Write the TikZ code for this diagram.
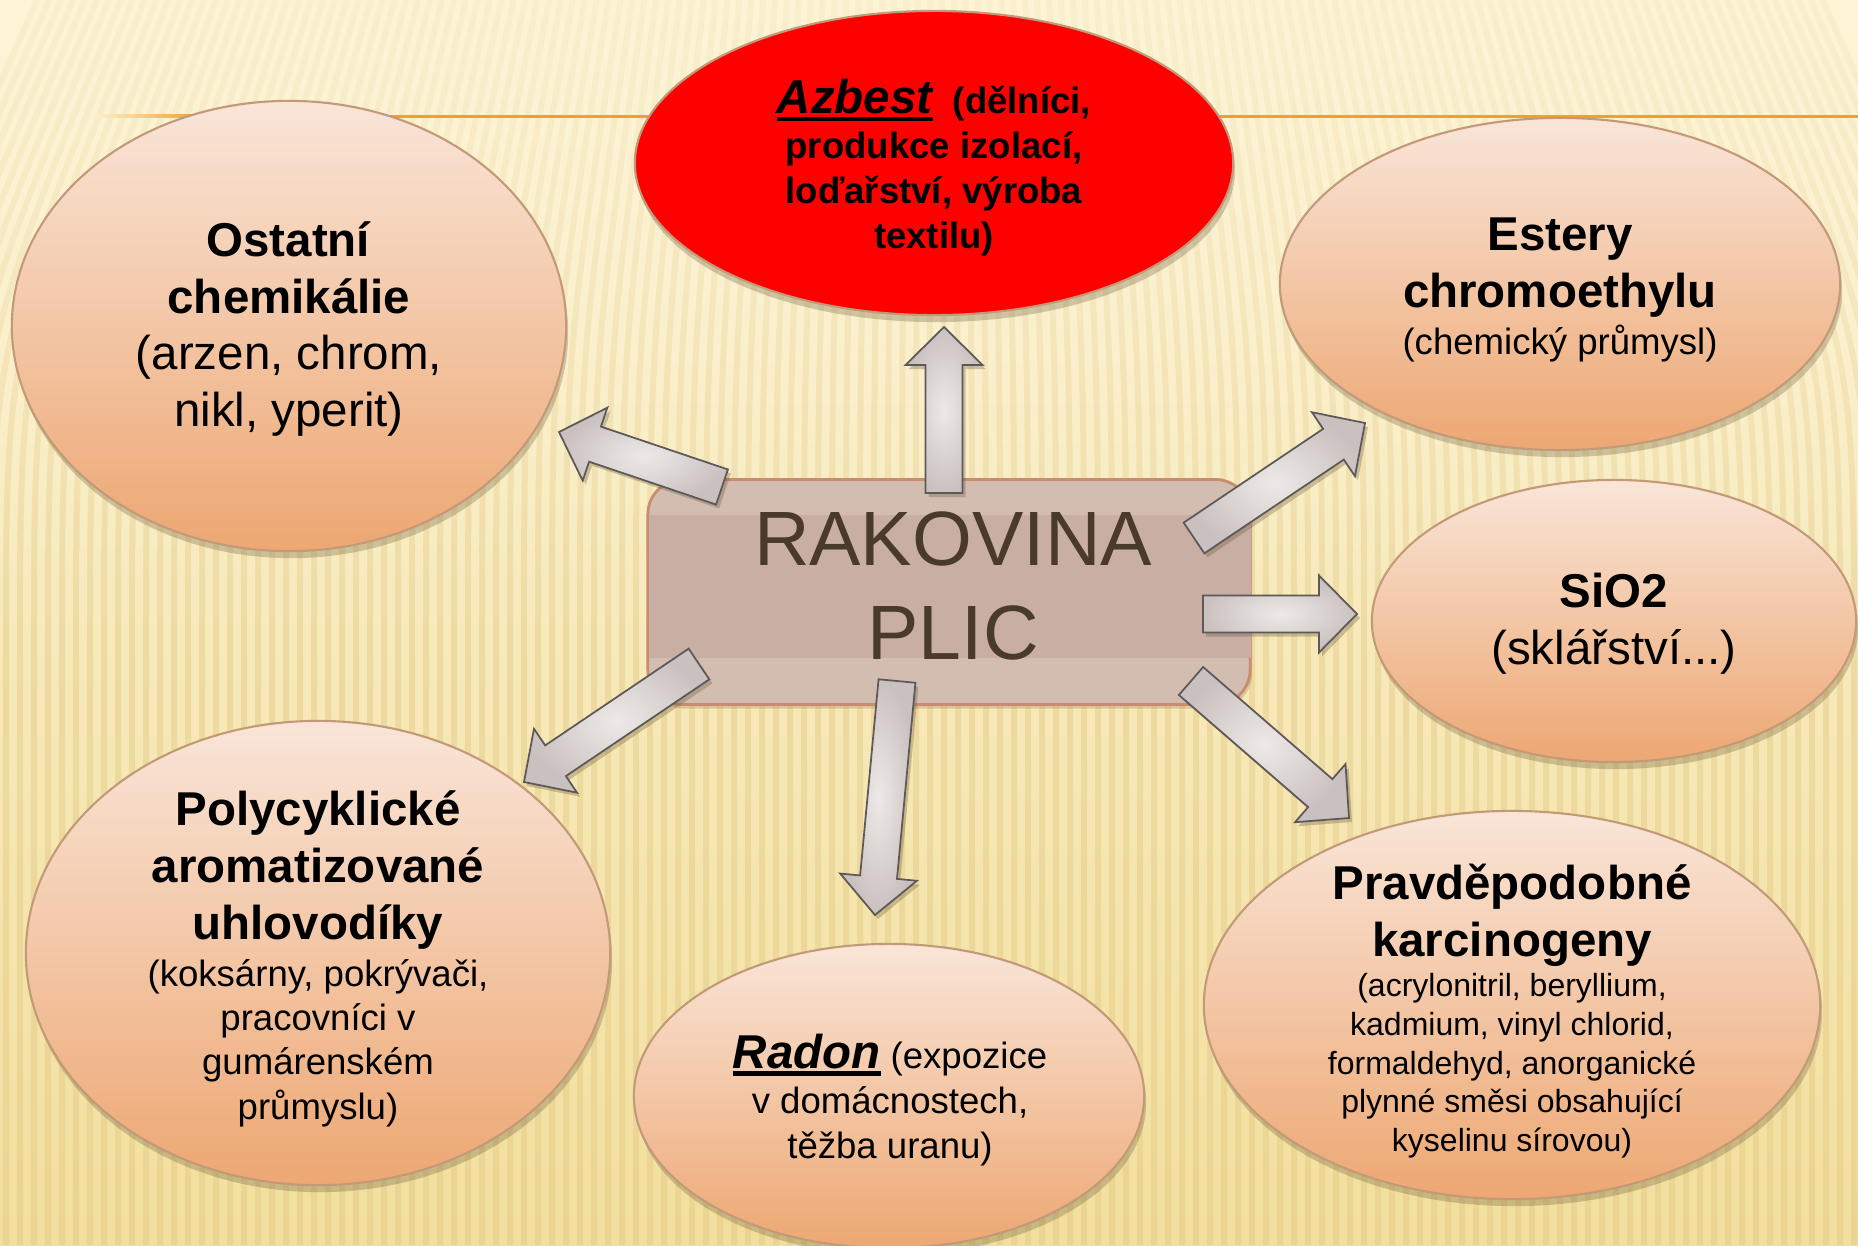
\documentclass[tikz,border=0pt]{standalone}
\usepackage{fontspec}
\setmainfont{Liberation Sans}
\usetikzlibrary{calc,shadows,shapes.geometric,fadings}
\definecolor{bgtop}{HTML}{FDF4D6}
\definecolor{bgbot}{HTML}{F2DF9E}
\definecolor{stripec}{HTML}{DEC27A}
\definecolor{linec}{HTML}{F0A02C}
\definecolor{elltop}{HTML}{F9E5D8}
\definecolor{ellbot}{HTML}{EDA772}
\definecolor{ellborder}{HTML}{C39A78}
\definecolor{shadowc}{HTML}{5E5030}
\definecolor{boxfill}{HTML}{D3BDB1}
\definecolor{boxband}{HTML}{C8AEA3}
\definecolor{boxedge}{HTML}{C98C70}
\definecolor{txtdark}{HTML}{4A3A2C}
\definecolor{arrfill}{HTML}{DDD6D4}
\definecolor{arrlight}{HTML}{EEE9E8}
\definecolor{arrdark}{HTML}{C9C1BF}
\definecolor{arredge}{HTML}{5E5858}
\tikzfading[name=topfade, top color=transparent!25, bottom color=transparent!100]
\newcommand\fsHead{\fontsize{13.5}{16.2}\selectfont}
\newcommand\fsMid{\fontsize{10.4}{12.8}\selectfont}
\newcommand\fsMidb{\fontsize{10.4}{12.6}\selectfont}
\newcommand\fsSmall{\fontsize{9.1}{11.0}\selectfont}
\newcommand\fsBig{\fontsize{21.9}{26.5}\selectfont}
\newsavebox\ulbox
\newcommand\myul[1]{\sbox\ulbox{#1}\rlap{\usebox\ulbox}\rule[-0.16em]{\wd\ulbox}{1.3pt}}
\newcommand\blockarrow[2]{%
  \coordinate (hb) at ($(#2)!0.38cm!(#1)$);
  \draw[arrstyle] ($(#1)!0.185cm!90:(#2)$) -- ($(hb)!0.185cm!-90:(#1)$)
    -- ($(hb)!0.385cm!-90:(#1)$) -- (#2) -- ($(hb)!0.385cm!90:(#1)$)
    -- ($(hb)!0.185cm!90:(#1)$) -- ($(#1)!0.185cm!-90:(#2)$) -- cycle;}
\begin{document}
\begin{tikzpicture}[x=0.01cm,y=-0.01cm,
  ellbase/.style={ellipse, draw=ellborder, line width=0.6pt, inner sep=0pt,
    drop shadow={shadow xshift=0.02cm, shadow yshift=-0.07cm, opacity=0.28, fill=shadowc}},
  ell/.style={ellbase, top color=elltop, bottom color=ellbot},
  redell/.style={ellbase, fill=red},
  txt/.style={align=center, inner sep=0pt, text=black},
  stripe/.style={stripec, line width=0.06cm, opacity=0.35},
  arrstyle/.style={inner color=arrlight, outer color=arrdark, draw=arredge, line width=0.5pt, line join=miter,
    drop shadow={shadow xshift=0.03cm, shadow yshift=-0.04cm, opacity=0.3, fill=shadowc}}]
\useasboundingbox (0,0) rectangle (1858,1245);
% background
\shade[top color=bgtop, bottom color=bgbot] (0,0) rectangle (1858,1245);
\begin{scope}
  \clip (0,0) rectangle (1858,1245);
  \foreach \x in {-120,-106,...,1980} {
    \pgfmathsetmacro{\xt}{\x-(\x-929)*0.15}
    \draw[stripe] (\xt,0) .. controls (\x,350) .. (\x,650) -- (\x,1245);
  }
\end{scope}
\fill[bgtop, path fading=topfade] (0,0) rectangle (1858,650);
\shade[left color=bgtop, right color=linec] (90,114.5) rectangle (200,117.5);
\draw[linec, line width=0.85pt] (199,116) -- (1858,116);
% ellipses
\node[redell, minimum width=5.98cm, minimum height=3.04cm] (azb) at (934,163) {};
\node[ell, minimum width=5.54cm, minimum height=4.50cm] (ost) at (289,326) {};
\node[ell, minimum width=5.60cm, minimum height=3.32cm] (est) at (1560,284) {};
\node[ell, minimum width=4.84cm, minimum height=2.82cm] (sio) at (1614,621) {};
\node[ell, minimum width=6.16cm, minimum height=3.88cm] (pra) at (1512,1005) {};
\node[ell, minimum width=5.84cm, minimum height=4.64cm] (pol) at (318,953) {};
\node[ell, minimum width=5.10cm, minimum height=3.04cm] (rad) at (889,1096) {};
% central box
\node[draw=boxedge, fill=boxfill, line width=0.8pt, rounded corners=0.35cm,
  minimum width=6.02cm, minimum height=2.25cm, inner sep=0pt,
  drop shadow={shadow xshift=0.02cm, shadow yshift=-0.04cm, opacity=0.2, fill=shadowc}] (box) at (949,592) {};
\fill[boxband] (649,515) rectangle (1251,658);
% arrows
\coordinate (u0) at (944,493);  \coordinate (u1) at (944,327);
\coordinate (ul0) at (722,487); \coordinate (ul1) at (559,432);
\coordinate (ur0) at (1194,538); \coordinate (ur1) at (1365,423);
\coordinate (r0) at (1203,614); \coordinate (r1) at (1357,614);
\coordinate (lr0) at (1191,681); \coordinate (lr1) at (1349,818);
\coordinate (d0) at (897,681);  \coordinate (d1) at (875,915);
\coordinate (ll0) at (699,664); \coordinate (ll1) at (524,782);
\blockarrow{u0}{u1}
\blockarrow{ul0}{ul1}
\blockarrow{ur0}{ur1}
\blockarrow{r0}{r1}
\blockarrow{lr0}{lr1}
\blockarrow{d0}{d1}
\blockarrow{ll0}{ll1}
% texts
\node[txt, font=\fsBig, text=txtdark] (tc) at (953,586) {RAKOVINA\\PLIC};
\node[txt, font=\fsMid\bfseries] (tazb) at (934,168)
  {{\fsHead\itshape\myul{Azbest}}\ \ (dělníci,\\produkce izolací,\\loďařství, výroba\\textilu)};
\node[txt, font=\fsHead] (tost) at (289,329)
  {\textbf{Ostatní}\\\textbf{chemikálie}\\(arzen, chrom,\\nikl, yperit)};
\node[txt, font=\fsHead\bfseries] (test) at (1560,268) {Estery\\chromoethylu};
\node[txt, font=\fsMid] (test2) at (1560,344) {(chemický průmysl)};
\node[txt, font=\fsHead] (tsio) at (1614,624) {\textbf{SiO2}\\(sklářství...)};
\node[txt, font=\fsHead\bfseries] (tpra) at (1512,915) {Pravděpodobné\\karcinogeny};
\node[txt, font=\fsSmall] (tpra2) at (1512,1066)
  {(acrylonitril, beryllium,\\kadmium, vinyl chlorid,\\formaldehyd, anorganické\\plynné směsi obsahující\\kyselinu sírovou)};
\node[txt, font=\fsHead\bfseries] (tpol) at (318,870) {Polycyklické\\aromatizované\\uhlovodíky};
\node[txt, font=\fsMidb] (tpol2) at (318,1043)
  {(koksárny, pokrývači,\\pracovníci v\\gumárenském\\průmyslu)};
\node[txt, font=\fsMid] (trad) at (890,1100)
  {{\fsHead\bfseries\itshape\myul{Radon}} (expozice\\v domácnostech,\\těžba uranu)};
\end{tikzpicture}
\end{document}
